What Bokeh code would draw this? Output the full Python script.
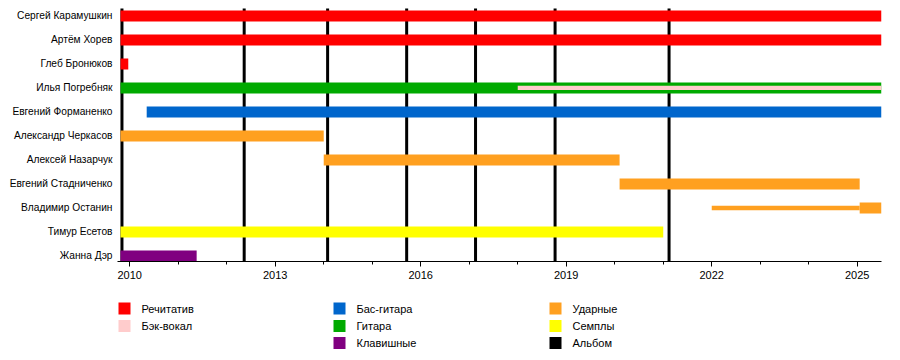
from bokeh.plotting import figure
from bokeh.models import Range1d, FixedTicker, ColumnDataSource
from bokeh.layouts import column
from bokeh.embed import file_html
from bokeh.resources import INLINE
from bokeh.core.properties import value

FONT = "Liberation Sans"

# ---- data ----
members = ["Сергей Карамушкин", "Артём Хорев", "Глеб Бронюков", "Илья Погребняк",
           "Евгений Форманенко", "Александр Черкасов", "Алексей Назарчук",
           "Евгений Стадниченко", "Владимир Останин", "Тимур Есетов", "Жанна Дэр"]

role_names = ["Речитатив", "Бэк-вокал", "Бас-гитара", "Гитара", "Клавишные",
              "Ударные", "Семплы", "Альбом"]
role_colors = ["#FF0000", "#FFCCCC", "#0066CC", "#00AA00", "#800080",
               "#FFA020", "#FFFF00", "#000000"]

# main bars
bar_member = ["Сергей Карамушкин", "Артём Хорев", "Глеб Бронюков", "Илья Погребняк",
              "Евгений Форманенко", "Александр Черкасов", "Алексей Назарчук",
              "Евгений Стадниченко", "Владимир Останин", "Тимур Есетов", "Жанна Дэр"]
bar_start = [2009.81, 2009.81, 2009.81, 2009.81, 2010.35, 2009.81, 2014.0,
             2020.1, 2025.05, 2009.81, 2009.81]
bar_end = [2025.5, 2025.5, 2009.97, 2025.5, 2025.5, 2014.0, 2020.1,
           2025.05, 2025.5, 2021.0, 2011.38]
bar_role = ["Речитатив", "Речитатив", "Речитатив", "Гитара", "Бас-гитара",
            "Ударные", "Ударные", "Ударные", "Ударные", "Семплы", "Клавишные"]

# thin (secondary) bars
thin_member = ["Илья Погребняк", "Владимир Останин"]
thin_start = [2018.0, 2022.0]
thin_end = [2025.5, 2025.05]
thin_role = ["Бэк-вокал", "Ударные"]

# albums
album_dates = [2009.84, 2012.36, 2014.08, 2015.71, 2017.13, 2018.77, 2021.12]

year_ticks = [2010, 2013, 2016, 2019, 2022, 2025]
minor_years = list(range(2010, 2026))

x_start, x_end = 2009.748, 2025.5

# legend layout (columns of role indices)
legend_columns = [[0, 1], [2, 3, 4], [5, 6, 7]]

# ---- helpers ----
color_of = dict(zip(role_names, role_colors))
n = len(members)
row_of = {m: n - 1 - i for i, m in enumerate(members)}

FW = 764
p = figure(frame_width=FW, frame_height=253, output_backend="svg",
           toolbar_location=None, x_range=Range1d(x_start, x_end),
           y_range=Range1d(-0.23, n - 1 + 0.31))
p.min_border_left = 117
p.min_border_right = 10
p.min_border_top = 8
p.min_border_bottom = 30
p.outline_line_color = None
p.background_fill_color = "white"
p.border_fill_color = "white"
p.xgrid.visible = False
p.ygrid.visible = False

# album lines (behind bars)
p.segment(x0=album_dates, x1=album_dates, y0=[-5] * len(album_dates),
          y1=[n + 5] * len(album_dates), line_color="black", line_width=3)

src = ColumnDataSource(dict(
    y=[row_of[m] for m in bar_member], left=bar_start, right=bar_end,
    color=[color_of[r] for r in bar_role]))
p.hbar(y="y", left="left", right="right", height=0.46, fill_color="color",
       line_color=None, source=src)

tsrc = ColumnDataSource(dict(
    y=[row_of[m] for m in thin_member], left=thin_start, right=thin_end,
    color=[color_of[r] for r in thin_role]))
p.hbar(y="y", left="left", right="right", height=0.18, fill_color="color",
       line_color=None, source=tsrc)

# axes
p.xaxis.ticker = FixedTicker(ticks=year_ticks, minor_ticks=minor_years)
p.xaxis.axis_line_color = "black"
p.xaxis.axis_line_width = 1
p.xaxis.major_tick_out = 5
p.xaxis.major_tick_in = 0
p.xaxis.minor_tick_out = 3
p.xaxis.minor_tick_in = 0
p.xaxis.major_label_standoff = 4
p.xaxis.major_label_text_font = FONT
p.xaxis.major_label_text_font_size = "11px"
p.xaxis.major_label_text_color = "black"

p.yaxis.ticker = FixedTicker(ticks=list(range(n)))
p.yaxis.major_label_overrides = {row_of[m]: m for m in members}
p.yaxis.axis_line_color = None
p.yaxis.major_tick_line_color = None
p.yaxis.minor_tick_line_color = None
p.yaxis.major_tick_out = 0
p.yaxis.major_tick_in = 0
p.yaxis.minor_tick_out = 0
p.yaxis.minor_tick_in = 0
p.yaxis.major_label_standoff = 5
p.yaxis.major_label_text_font = FONT
p.yaxis.major_label_text_font_size = "10.2px"
p.yaxis.major_label_text_color = "black"

# ---- legend figure (its frame is aligned with the main frame) ----
lg = figure(frame_width=FW, frame_height=62, output_backend="svg",
            toolbar_location=None, x_range=Range1d(0, FW), y_range=Range1d(62, 0))
lg.min_border_left = 117
lg.min_border_right = 10
lg.min_border_top = 0
lg.min_border_bottom = 0
lg.outline_line_color = None
lg.axis.visible = False
lg.grid.visible = False

col_x = [7, 222, 438]   # swatch centre, px from frame left
row_y = [17, 34.5, 51.5]
sx, sy, tx, names, cols = [], [], [], [], []
for ci, idxs in enumerate(legend_columns):
    for ri, k in enumerate(idxs):
        sx.append(col_x[ci])
        sy.append(row_y[ri])
        tx.append(col_x[ci] + 17)
        names.append(role_names[k])
        cols.append(role_colors[k])
lg.rect(x=sx, y=sy, width=12, height=12, fill_color=cols, line_color=None)
lg.text(x=tx, y=sy, text=names, text_font=value(FONT), text_font_size="11px",
        text_baseline="middle", text_align="left", text_color="black")

layout = column(p, lg, spacing=0)
open("out.html", "w").write(file_html(layout, INLINE))
